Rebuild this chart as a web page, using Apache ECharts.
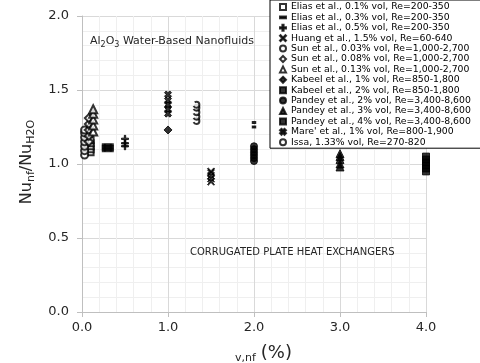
<!DOCTYPE html>
<html>
<head>
<meta charset="utf-8">
<script src="https://cdn.jsdelivr.net/npm/echarts@6/dist/echarts.min.js"></script>
<style>
html,body{margin:0;padding:0;background:#fff;}
#chart{width:480px;height:363px;}
</style>
</head>
<body>
<div id="chart"></div>
<script>
// Study labels (legend order)
const seriesNames = [
  "Elias et al., 0.1% vol, Re=200-350",
  "Elias et al., 0.3% vol, Re=200-350",
  "Elias et al., 0.5% vol, Re=200-350",
  "Huang et al., 1.5% vol, Re=60-640",
  "Sun et al., 0.03% vol, Re=1,000-2,700",
  "Sun et al., 0.08% vol, Re=1,000-2,700",
  "Sun et al., 0.13% vol, Re=1,000-2,700",
  "Kabeel et al., 1% vol, Re=850-1,800",
  "Kabeel et al., 2% vol, Re=850-1,800",
  "Pandey et al., 2% vol, Re=3,400-8,600",
  "Pandey et al., 3% vol, Re=3,400-8,600",
  "Pandey et al., 4% vol, Re=3,400-8,600",
  "Mare' et al., 1% vol, Re=800-1,900",
  "Issa, 1.33% vol, Re=270-820"
];

// Volume fraction (%) of each study
const volFraction = [0.1, 0.3, 0.5, 1.5, 0.03, 0.08, 0.13, 1.0, 2.0, 2.0, 3.0, 4.0, 1.0, 1.33];

// Nu_nf / Nu_H2O values of each study
const eliasA  = [1.08, 1.10, 1.12, 1.14, 1.16];
const eliasB  = [1.09, 1.10, 1.11, 1.12, 1.13];
const eliasC  = [1.12, 1.14, 1.17];
const huang   = [0.88, 0.90, 0.92, 0.94, 0.95];
const sunA    = [1.06, 1.09, 1.12, 1.15, 1.18, 1.21, 1.23];
const sunB    = [1.15, 1.19, 1.23, 1.27, 1.31];
const sunC    = [1.22, 1.26, 1.30, 1.34, 1.37];
const kabeelA = [1.23];
const kabeelB = [1.25, 1.28];
const pandeyA = [1.02, 1.04, 1.06, 1.08, 1.10, 1.12];
const pandeyB = [0.98, 1.00, 1.03, 1.05, 1.07];
const pandeyC = [0.95, 0.97, 0.99, 1.01, 1.03, 1.05];
const mare    = [1.34, 1.37, 1.40, 1.43, 1.47];
const issa    = [1.29, 1.32, 1.35, 1.38, 1.40];

const ratios = [eliasA, eliasB, eliasC, huang, sunA, sunB, sunC,
                kabeelA, kabeelB, pandeyA, pandeyB, pandeyC, mare, issa];

// Axis ticks
const xTicks = [0, 1, 2, 3, 4];
const yTicks = [0, 0.5, 1.0, 1.5, 2.0];

// Marker shapes
const PLUS  = 'path://M4,0H6V4H10V6H6V10H4V6H0V4H4Z';
const XTHIN = 'path://M0,1L1,0L5,4L9,0L10,1L6,5L10,9L9,10L5,6L1,10L0,9L4,5Z';
const XBOLD = 'path://M0,2.5L2.5,0L5,2.5L7.5,0L10,2.5L7.5,5L10,7.5L7.5,10L5,7.5L2.5,10L0,7.5L2.5,5Z';
const DASH  = 'path://M0,0H10V3H0Z';
const styles = [
  {symbol: 'emptyRect', size: 6},
  {symbol: DASH, size: [8, 2]},
  {symbol: PLUS, size: 7},
  {symbol: XTHIN, size: 7},
  {symbol: 'emptyCircle', size: 7},
  {symbol: 'emptyDiamond', size: 8},
  {symbol: 'emptyTriangle', size: 8},
  {symbol: 'diamond', size: 8},
  {symbol: 'rect', size: [3, 2]},
  {symbol: 'circle', size: 7},
  {symbol: 'triangle', size: 8},
  {symbol: 'rect', size: 7},
  {symbol: XBOLD, size: 7},
  {symbol: 'emptyCircle', size: 6, dashed: true}
];

const series = seriesNames.map((name, i) => ({
  name: name,
  type: 'scatter',
  symbol: styles[i].symbol,
  symbolSize: styles[i].size,
  itemStyle: {
    color: '#000',
    borderColor: '#000',
    borderWidth: 1,
    borderType: styles[i].dashed ? 'dashed' : 'solid'
  },
  data: ratios[i].map(v => [volFraction[i], v])
}));

const font = 'DejaVu Sans, Verdana, sans-serif';
const chart = echarts.init(document.getElementById('chart'), null, {renderer: 'canvas'});
chart.setOption({
  animation: false,
  backgroundColor: '#fff',
  grid: {left: 82, right: 54, top: 16, bottom: 51},
  xAxis: {
    type: 'value',
    min: xTicks[0], max: xTicks[xTicks.length - 1], interval: 1,
    axisLine: {lineStyle: {color: '#bfbfbf', width: 1}},
    axisTick: {show: true, length: 5, lineStyle: {color: '#bfbfbf'}},
    axisLabel: {color: '#262626', fontFamily: font, fontSize: 13, margin: 9,
      formatter: v => v.toFixed(1)},
    splitLine: {show: true, lineStyle: {color: '#d9d9d9', width: 1}},
    minorTick: {show: false, splitNumber: 5},
    minorSplitLine: {show: true, lineStyle: {color: '#efefef', width: 1}}
  },
  yAxis: {
    type: 'value',
    min: yTicks[0], max: yTicks[yTicks.length - 1], interval: 0.5,
    axisLine: {show: true, lineStyle: {color: '#bfbfbf', width: 1}},
    axisTick: {show: true, length: 5, lineStyle: {color: '#bfbfbf'}},
    axisLabel: {color: '#262626', fontFamily: font, fontSize: 13, margin: 13,
      formatter: v => v.toFixed(1)},
    splitLine: {show: true, lineStyle: {color: '#d9d9d9', width: 1}},
    minorTick: {show: false, splitNumber: 5},
    minorSplitLine: {show: true, lineStyle: {color: '#efefef', width: 1}}
  },
  legend: {
    orient: 'vertical',
    left: 270, top: 0,
    padding: [2, 30, 1, 9],
    itemWidth: 6, itemHeight: 6,
    itemGap: 0.4,
    backgroundColor: '#fff',
    borderColor: '#000', borderWidth: 1,
    textStyle: {fontFamily: font, fontSize: 9.3, lineHeight: 10, color: '#000'},
    data: seriesNames
  },
  graphic: [
    {
      type: 'text', left: 90, top: 36, z: 10,
      style: {
        text: 'Al{s|2}O{s|3} Water-Based Nanofluids',
        font: '11px ' + font, fill: '#262626',
        rich: {s: {fontSize: 8, fontFamily: font, verticalAlign: 'bottom', lineHeight: 14, padding: [4, 0, 0, 0]}}
      }
    },
    {
      type: 'text', left: 190, top: 247, z: 10,
      style: {text: 'CORRUGATED PLATE HEAT EXCHANGERS', font: '10px ' + font, fill: '#262626'}
    },
    {
      type: 'text', x: 27, y: 162, rotation: Math.PI / 2, z: 10,
      style: {
        text: 'Nu{s|nf}/Nu{s|H2O}',
        fontSize: 16, fontFamily: font, fill: '#262626',
        align: 'center', verticalAlign: 'middle',
        rich: {s: {fontSize: 11, fontFamily: font, verticalAlign: 'bottom', lineHeight: 20, padding: [6, 0, 0, 0]}}
      }
    },
    {
      type: 'text', left: 235, top: 344, z: 10,
      style: {
        text: '{s|v,nf}{b|(%)}',
        fill: '#262626',
        rich: {
          s: {fontSize: 11, fontFamily: font, verticalAlign: 'bottom', lineHeight: 22, padding: [8, 5, 0, 0]},
          b: {fontSize: 18, fontFamily: font, lineHeight: 22}
        }
      }
    }
  ],
  series: series
});
</script>
</body>
</html>
